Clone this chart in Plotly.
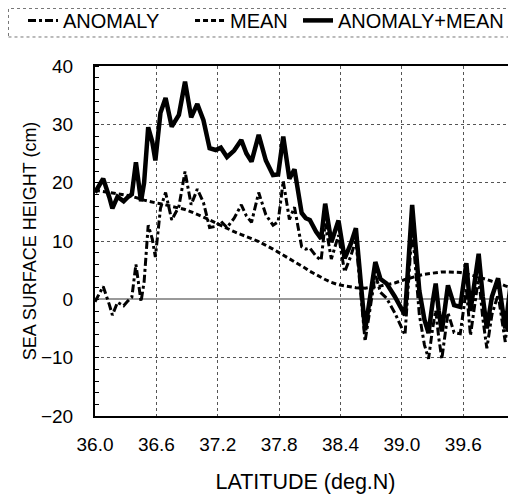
import plotly.graph_objects as go

latitude = [36.00, 36.04, 36.08, 36.14, 36.17, 36.22, 36.28, 36.32, 36.36, 36.40,
            36.45, 36.48, 36.52, 36.56, 36.59, 36.64, 36.69, 36.75, 36.82, 36.88,
            36.94, 37.00, 37.06, 37.12, 37.18, 37.23, 37.29, 37.36, 37.43, 37.48,
            37.53, 37.60, 37.67, 37.74, 37.79, 37.84, 37.90, 37.95, 38.02, 38.06,
            38.10, 38.16, 38.21, 38.25, 38.31, 38.38, 38.44, 38.50, 38.55, 38.64,
            38.74, 38.79, 38.85, 38.93, 39.03, 39.10, 39.17, 39.22, 39.26, 39.30,
            39.33, 39.36, 39.39, 39.45, 39.51, 39.57, 39.63, 39.67, 39.75, 39.79,
            39.83, 39.88, 39.94, 40.01, 40.07, 40.12]

mean = [18.7, 18.6, 18.5, 18.35, 18.3, 18.1, 17.9, 17.8, 17.65, 17.5,
        17.2, 17.0, 16.8, 16.65, 16.55, 16.4, 16.2, 16.0, 15.7, 15.4,
        15.0, 14.6, 14.1, 13.6, 13.1, 12.6, 12.1, 11.6, 11.1, 10.7,
        10.4, 9.9, 9.3, 8.6, 8.1, 7.6, 7.0, 6.5, 5.8, 5.3,
        4.8, 4.2, 3.7, 3.4, 2.9, 2.5, 2.3, 2.1, 2.0, 1.9,
        2.1, 2.3, 2.5, 2.8, 3.4, 3.8, 4.1, 4.3, 4.4, 4.5,
        4.6, 4.6, 4.7, 4.7, 4.7, 4.6, 4.4, 4.2, 3.9, 3.7,
        3.4, 3.1, 2.8, 2.3, 2.0, 1.7]

anomaly_plus_mean = [18.3, 19.5, 20.7, 17.5, 15.6, 17.6, 16.8, 17.5, 18.0, 23.5,
                     16.8, 20.0, 29.5, 27.0, 23.8, 32.0, 34.5, 29.6, 31.6, 37.3,
                     31.2, 33.5, 30.7, 25.9, 25.6, 26.0, 24.4, 25.5, 27.3, 25.0,
                     23.6, 28.2, 23.8, 21.3, 21.4, 27.9, 20.7, 22.3, 14.8, 13.9,
                     13.6, 11.6, 10.4, 16.4, 9.8, 13.5, 7.0, 9.5, 12.2, -5.3,
                     6.4, 3.5, 2.7, 0.5, -2.7, 16.2, 1.5, -3.5, -5.8, -0.5,
                     2.7, -2.0, -5.5, 2.4, -1.0, -1.3, 6.2, -2.0, 7.8, 0.5,
                     -5.0, 0.5, 3.6, -5.0, 3.6, 2.0]

anomaly = [-0.4, 0.9, 2.2, -0.9, -2.7, -0.5, -1.1, -0.3, 0.35, 6.0,
           -0.4, 3.0, 12.7, 10.35, 7.25, 15.6, 18.3, 13.6, 15.9, 21.9,
           16.2, 18.9, 16.6, 12.3, 12.5, 13.4, 12.3, 13.9, 16.2, 14.3,
           13.2, 18.3, 14.5, 12.7, 13.3, 20.3, 13.7, 15.8, 9.0, 8.6,
           8.8, 7.4, 6.7, 13.0, 6.9, 11.0, 4.7, 7.4, 10.2, -7.2,
           4.3, 1.2, 0.2, -2.3, -6.1, 12.4, -2.6, -7.8, -10.2, -5.0,
           -1.9, -6.6, -10.2, -2.3, -5.7, -5.9, 1.8, -6.2, 3.9, -3.2,
           -8.4, -2.6, 0.8, -7.3, 1.6, 0.3]

x_ticks = [36.0, 36.6, 37.2, 37.8, 38.4, 39.0, 39.6]
x_tick_labels = ["36.0", "36.6", "37.2", "37.8", "38.4", "39.0", "39.6"]
y_ticks = [-20, -10, 0, 10, 20, 30, 40]

FONT = "Liberation Sans, Arial, sans-serif"

fig = go.Figure()
fig.add_trace(go.Scatter(x=latitude, y=anomaly, mode="lines", name="ANOMALY", legend="legend",
                         line=dict(color="black", width=3, dash="8px,3px,3px,3px")))
fig.add_trace(go.Scatter(x=latitude, y=mean, mode="lines", name="MEAN", legend="legend2",
                         line=dict(color="black", width=3, dash="5px,3px")))
fig.add_trace(go.Scatter(x=latitude, y=anomaly_plus_mean, mode="lines", name="ANOMALY+MEAN",
                         legend="legend3", line=dict(color="black", width=4.5)))

def leg(xpos):
    return dict(orientation="h", x=xpos, xref="paper", xanchor="left",
                y=1.186, yref="paper", yanchor="top",
                font=dict(size=20), itemwidth=30, bgcolor="rgba(0,0,0,0)")

fig.update_layout(
    width=508, height=486,
    margin=dict(l=87, r=0, t=58, b=78, autoexpand=False),
    paper_bgcolor="white", plot_bgcolor="white",
    font=dict(family=FONT, size=19, color="black"),
    showlegend=True,
    legend=leg(-0.171), legend2=leg(0.2257), legend3=leg(0.4822),
    xaxis=dict(range=[36.0, 40.115], tickvals=x_ticks, ticktext=x_tick_labels,
               showgrid=True, gridcolor="#555", griddash="dot", gridwidth=1,
               showline=True, linecolor="black", linewidth=2, mirror=True,
               ticks="", ticklabelstandoff=10, zeroline=False, automargin=True,
               title=dict(text="LATITUDE (deg.N)", standoff=22, font=dict(size=21.5))),
    yaxis=dict(range=[-20, 40], tickvals=y_ticks,
               showgrid=True, gridcolor="#555", griddash="dot", gridwidth=1,
               showline=True, linecolor="black", linewidth=2, mirror=True,
               ticks="", ticklabelstandoff=16, automargin=True,
               zeroline=True, zerolinecolor="#999", zerolinewidth=1.5,
               minor=dict(ticks="inside", ticklen=4, dtick=2, tickcolor="black", showgrid=False),
               title=dict(text="SEA SURFACE HEIGHT (cm)", standoff=0, font=dict(size=18))),
)

fig.add_shape(type="rect", xref="paper", yref="paper",
              x0=-0.2055, x1=1.0, y0=1.0829, y1=1.1643,
              line=dict(color="#777", width=1, dash="dot"), layer="above")

fig.write_html("out.html")
